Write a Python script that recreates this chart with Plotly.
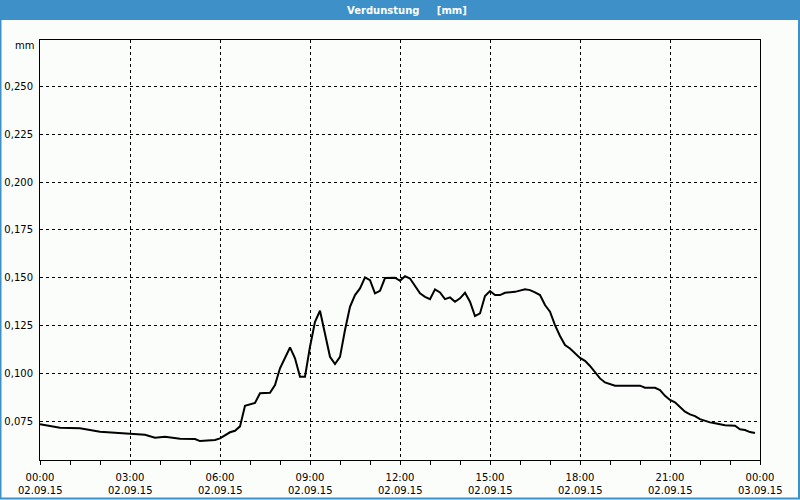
import plotly.graph_objects as go

# ---- data ----
times = ["00:00", "00:40", "01:20", "02:00", "03:00", "03:30", "03:50", "04:10", "04:40", "05:10",
         "05:20", "05:50", "06:00", "06:20", "06:30", "06:40", "06:50", "07:10", "07:20", "07:40",
         "07:50", "08:00", "08:20", "08:30", "08:40", "08:50", "09:00", "09:10", "09:20", "09:30",
         "09:40", "09:50", "10:00", "10:10", "10:20", "10:30", "10:40", "10:50", "11:00", "11:10",
         "11:20", "11:30", "11:50", "12:00", "12:10", "12:20", "12:40", "12:50", "13:00", "13:10",
         "13:20", "13:30", "13:40", "13:50", "14:00", "14:10", "14:20", "14:30", "14:40", "14:50",
         "15:00", "15:10", "15:20", "15:30", "15:50", "16:10", "16:20", "16:30", "16:40", "16:50",
         "17:00", "17:10", "17:20", "17:30", "17:40", "18:00", "18:10", "18:20", "18:30", "18:40",
         "18:50", "19:00", "19:10", "20:00", "20:10", "20:30", "20:40", "20:50", "21:00", "21:10",
         "21:20", "21:30", "21:40", "21:50", "22:00", "22:10", "22:20", "22:30", "22:40", "22:50",
         "23:10", "23:20", "23:30", "23:40", "23:50"]
values = [0.0733, 0.0715, 0.0712, 0.0694, 0.0684, 0.0678, 0.0663, 0.0668, 0.0657, 0.0656,
          0.0645, 0.0651, 0.0659, 0.0691, 0.0699, 0.0722, 0.0830, 0.0845, 0.0895, 0.0898,
          0.0938, 0.1026, 0.1135, 0.1078, 0.0982, 0.0982, 0.1139, 0.1269, 0.1327, 0.1209,
          0.1086, 0.1048, 0.1086, 0.1226, 0.1348, 0.1409, 0.1444, 0.1502, 0.1487, 0.1418,
          0.1431, 0.1498, 0.1500, 0.1484, 0.1508, 0.1496, 0.1418, 0.1400, 0.1388, 0.1439,
          0.1423, 0.1388, 0.1397, 0.1374, 0.1392, 0.1421, 0.1374, 0.1299, 0.1313, 0.1404,
          0.1430, 0.1409, 0.1409, 0.1421, 0.1426, 0.1439, 0.1435, 0.1423, 0.1409, 0.1357,
          0.1322, 0.1252, 0.1195, 0.1148, 0.1130, 0.1080, 0.1065, 0.1038, 0.1008, 0.0973,
          0.0952, 0.0942, 0.0935, 0.0935, 0.0924, 0.0924, 0.0912, 0.0882, 0.0860, 0.0848,
          0.0825, 0.0799, 0.0785, 0.0776, 0.0760, 0.0750, 0.0743, 0.0738, 0.0733, 0.0728,
          0.0725, 0.0707, 0.0703, 0.0692, 0.0687]

day = "2015-09-02"
x_tick_vals = ["2015-09-02 00:00", "2015-09-02 03:00", "2015-09-02 06:00", "2015-09-02 09:00",
               "2015-09-02 12:00", "2015-09-02 15:00", "2015-09-02 18:00", "2015-09-02 21:00",
               "2015-09-03 00:00"]
x_tick_times = ["00:00", "03:00", "06:00", "09:00", "12:00", "15:00", "18:00", "21:00", "00:00"]
x_tick_dates = ["02.09.15"] * 8 + ["03.09.15"]
y_tick_vals = [0.075, 0.100, 0.125, 0.150, 0.175, 0.200, 0.225, 0.250]
y_tick_text = ["0,075", "0,100", "0,125", "0,150", "0,175", "0,200", "0,225", "0,250"]
title_text = "Verdunstung\u00a0\u00a0\u00a0\u00a0\u00a0[mm]"
unit_text = "mm"

x = [f"{day} {t}" for t in times]

W, H = 800, 500
L, R, T, B = 40, 40, 40, 40
pw, ph = W - L - R, H - T - B
def px(xp):
    return (xp - L) / pw
def py(yp):
    return (H - B - yp) / ph

BLUE = "#3d91c8"
BG = "#fbfdfb"
FONT = "DejaVu Sans"

fig = go.Figure()
fig.add_trace(go.Scatter(x=x, y=values, mode="lines",
                         line=dict(color="black", width=2), hoverinfo="skip",
                         showlegend=False))

xr = ["2015-09-02 00:00", "2015-09-03 00:00"]
annotations = [
    dict(text=title_text, xref="paper", yref="paper", x=px(407), y=py(10),
         xanchor="center", yanchor="middle", showarrow=False,
         font=dict(family=FONT, size=10, color="white", weight="bold")),
    dict(text=unit_text, xref="paper", yref="paper", x=px(36), y=py(46),
         xanchor="right", yanchor="middle", showarrow=False,
         font=dict(family=FONT, size=10, color="black")),
]
for tv, td in zip(x_tick_vals, x_tick_dates):
    annotations.append(dict(text=td, xref="x", yref="paper", x=tv, y=py(490),
                            xanchor="center", yanchor="middle", showarrow=False,
                            font=dict(family=FONT, size=10, color="black")))

fig.update_layout(
    width=W, height=H,
    margin=dict(l=L, r=R, t=T, b=B, autoexpand=False),
    paper_bgcolor=BG, plot_bgcolor=BG,
    font=dict(family=FONT, size=10, color="black"),
    xaxis=dict(type="date", range=xr, tickmode="array", tickvals=x_tick_vals,
               ticktext=x_tick_times, ticks="outside", ticklen=4, tickcolor="black",
               showgrid=True, gridcolor="black", gridwidth=1, griddash="3px,3px",
               showline=True, linecolor="black", linewidth=1, mirror=True,
               zeroline=False, ticklabelstandoff=4, automargin=False,
               minor=dict(ticks="outside", ticklen=4, tickcolor="black",
                          dtick=3600000, tick0="2015-09-02 00:00", showgrid=False)),
    yaxis=dict(range=[0.0546, 0.2744], tickmode="array", tickvals=y_tick_vals,
               ticktext=y_tick_text, ticks="", showgrid=True, gridcolor="black",
               gridwidth=1, griddash="3px,3px", showline=True, linecolor="black",
               linewidth=1, mirror=True, zeroline=False, ticklabelstandoff=4,
               automargin=False),
    shapes=[
        dict(type="rect", xref="paper", yref="paper", x0=px(0), x1=px(W),
             y0=py(20), y1=py(0), fillcolor=BLUE, line=dict(width=0), layer="above"),
        dict(type="rect", xref="paper", yref="paper", x0=px(0.5), x1=px(799),
             y0=py(498.5), y1=py(10), fillcolor="rgba(0,0,0,0)",
             line=dict(color=BLUE, width=2), layer="above"),
    ],
    annotations=annotations,
)

fig.write_html("out.html")
